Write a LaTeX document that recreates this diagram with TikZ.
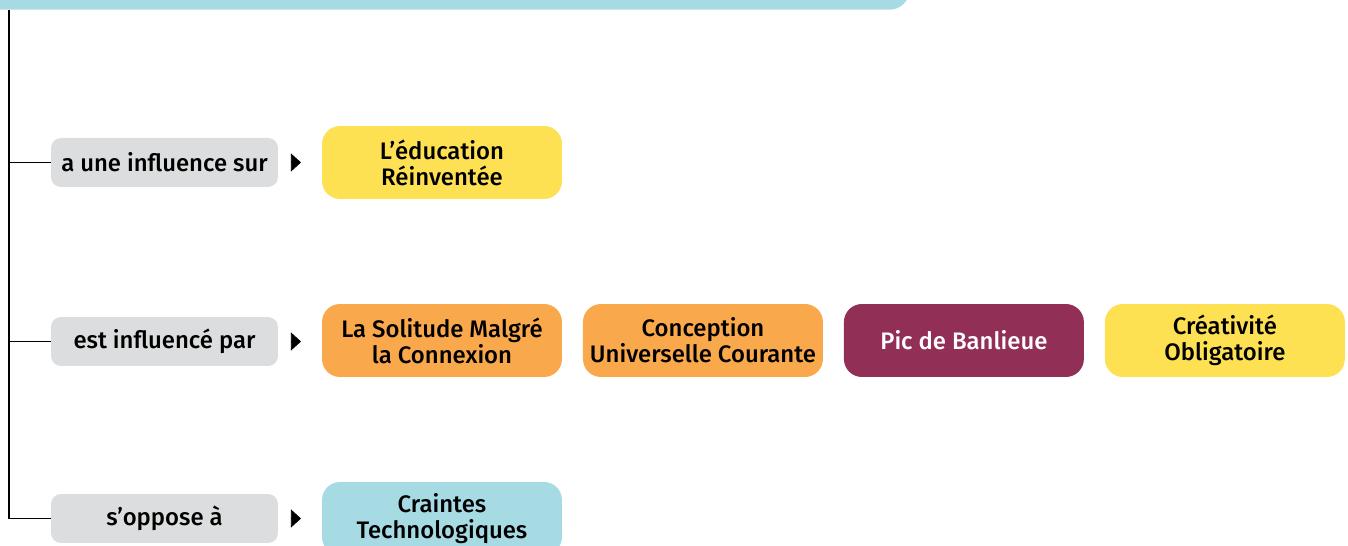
\documentclass[tikz,border=0pt]{standalone}
\usepackage{fontspec}
\setmainfont{Fira Sans}[UprightFont=* Medium]
\usetikzlibrary{positioning,arrows.meta}

\definecolor{topicblue}{HTML}{A6DBE3}
\definecolor{relgray}{HTML}{DCDDDE}
\definecolor{ideayellow}{HTML}{FDE152}
\definecolor{ideaorange}{HTML}{F9A84B}
\definecolor{ideapurple}{HTML}{922F57}

\begin{document}
\begin{tikzpicture}[x=0.02cm,y=-0.02cm,
  relbox/.style={fill=relgray, rounded corners=0.2cm, minimum width=4.54cm,
    minimum height=0.98cm, inner sep=0pt, outer sep=0pt, font=\fontsize{13.6}{14.8}\selectfont},
  ideabox/.style={rounded corners=0.36cm, minimum width=4.8cm, minimum height=1.46cm,
    inner sep=0pt, outer sep=0pt, align=center, font=\fontsize{13.6}{14.8}\selectfont},
  branch/.style={line width=0.8pt},
  pointer/.style={-{Triangle[width=0.36cm,length=0.2cm]}}]

\useasboundingbox (0,0) rectangle (1348,546);

% bandeau du haut
\node[fill=topicblue, rounded corners=0.4cm, minimum width=19cm, minimum height=1cm,
  inner sep=0pt, anchor=south east] (topic) at (910,10) {};
\coordinate (root) at (9,10);

% relations
\node[relbox] (influence) at (164.5,162.5) {a une influence sur};
\node[relbox] (influenced) at (164.5,341.5) {est influencé par};
\node[relbox] (oppose) at (164.5,518.5) {s’oppose à};

% branches
\draw[branch] (root) |- (oppose.west);
\draw[branch] (influence.west -| root) -- (influence.west);
\draw[branch] (influenced.west -| root) -- (influenced.west);

% triangles
\draw[pointer] ([xshift=0.26cm]influence.east) -- ([xshift=0.46cm]influence.east);
\draw[pointer] ([xshift=0.26cm]influenced.east) -- ([xshift=0.46cm]influenced.east);
\draw[pointer] ([xshift=0.26cm]oppose.east) -- ([xshift=0.46cm]oppose.east);

% concepts
\node[ideabox, fill=ideayellow] (education) at (442,162.5) {L’éducation\\Réinventée};
\node[ideabox, fill=ideaorange] (solitude) at (442,340.5) {La Solitude Malgré\\la Connexion};
\node[ideabox, fill=ideaorange, right=0.42cm of solitude] (conception) {Conception\\Universelle Courante};
\node[ideabox, fill=ideapurple, text=white, right=0.42cm of conception] (banlieue) {Pic de Banlieue};
\node[ideabox, fill=ideayellow, right=0.42cm of banlieue] (creativite) {Créativité\\Obligatoire};
\node[ideabox, fill=topicblue] (craintes) at (442,518.5) {Craintes\\Technologiques};

\end{tikzpicture}
\end{document}
